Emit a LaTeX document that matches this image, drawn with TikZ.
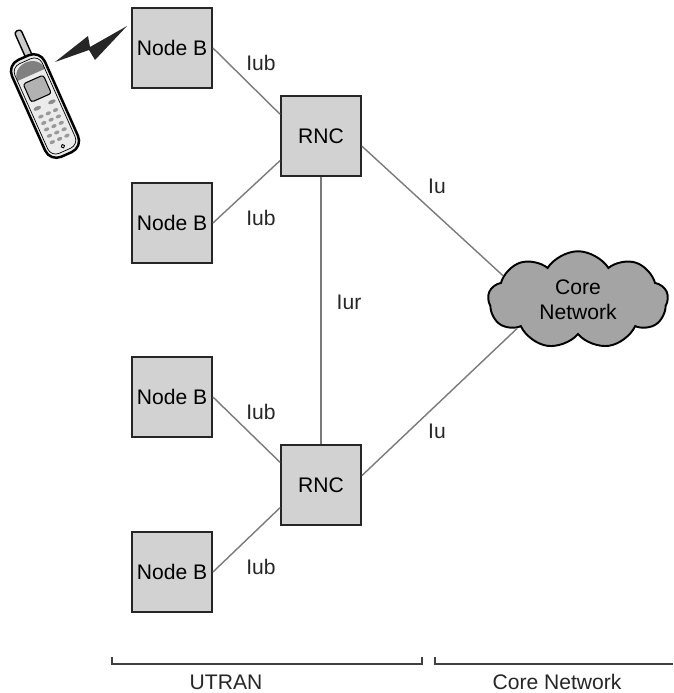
\documentclass[tikz,border=0pt]{standalone}
\usepackage{fontspec}
\setmainfont{Liberation Sans}
\usetikzlibrary{shapes.symbols}

\definecolor{boxgray}{HTML}{D2D2D2}
\definecolor{cloudgray}{HTML}{A4A4A4}
\definecolor{linkgray}{HTML}{7A7A7A}

\begin{document}
\begin{tikzpicture}[x=0.02cm, y=-0.02cm, font=\fontsize{12}{14}\selectfont,
  station/.style={draw=black!85, line width=1.1pt, fill=boxgray, minimum size=1.6cm, inner sep=0pt},
  link/.style={draw=linkgray, line width=0.8pt},
  lbl/.style={text=black!85, inner sep=1pt},
  bracket/.style={draw=black!75, line width=1pt}]

  \useasboundingbox (0,0) rectangle (673,693);

  % base stations and controllers
  \node[station] (nodeb1) at (172,48) {Node B};
  \node[station] (nodeb2) at (172,223) {Node B};
  \node[station] (nodeb3) at (172,397) {Node B};
  \node[station] (nodeb4) at (172,572) {Node B};
  \node[station] (rnc1) at (321,136) {RNC};
  \node[station] (rnc2) at (321,485) {RNC};
  \node[cloud, cloud puffs=9, cloud puff arc=115, aspect=1.9, draw=black, line width=1.1pt,
        fill=cloudgray, minimum width=3.6cm, minimum height=1.95cm, align=center] (core) at (578,300) {Core\\Network};

  % interfaces
  \draw[link] (nodeb1.east) -- (rnc1.152);
  \draw[link] (nodeb2.east) -- (rnc1.211);
  \draw[link] (nodeb3.east) -- (rnc2.151);
  \draw[link] (nodeb4.east) -- (rnc2.209);
  \draw[link] (rnc1.south) -- (rnc2.north);
  \draw[link] (rnc1.346) -- (core.162);
  \draw[link] (rnc2.13) -- (core.205);

  \node[lbl] (iub1) at (261,63) {Iub};
  \node[lbl] (iub2) at (261,218) {Iub};
  \node[lbl] (iub3) at (261,412) {Iub};
  \node[lbl] (iub4) at (261,567) {Iub};
  \node[lbl] (iu1) at (437,186) {Iu};
  \node[lbl] (iu2) at (437,431) {Iu};
  \node[lbl] (iur) at (349,302) {Iur};

  % radio link
  \fill[black!85] (55,62) -- (88,36) -- (90,47) -- (127,26) -- (95,60) -- (89,50) -- cycle;

  % handset
  \begin{scope}[shift={(45,106)}, rotate=24]
    \draw[line width=0.8pt, fill=black!20, rounded corners=1.5pt] (2,-46) rectangle (9,-80);
    \draw[line width=1.4pt, fill=black!8, rounded corners=7pt] (-18,-53) rectangle (18,53);
    \fill[black!50] (-15,-34) .. controls (-15,-52) and (15,-52) .. (15,-34) -- cycle;
    \draw[line width=0.4pt, rounded corners=5pt] (-15,-49) rectangle (15,49);
    \draw[line width=0.6pt, fill=black!30, rounded corners=1.5pt] (-11,-29) rectangle (11,-9);
    \foreach \x in {-8,8}
      \fill[black!45] (\x,-1) ellipse (4 and 2);
    \foreach \y in {8,15,22,29,36}
      \foreach \x in {-8,0,8}
        \fill[black!40] (\x,\y) ellipse (2.8 and 1.8);
    \draw[line width=0.5pt] (0,44) circle (1.8);
  \end{scope}

  % domains
  \draw[bracket] (112,657) -- (112,664) -- (422,664) -- (422,657);
  \draw[bracket] (435,657) -- (435,664) -- (673,664);
  \node[lbl] (utran) at (226,682) {UTRAN};
  \node[lbl] (corenet) at (557,682) {Core Network};
\end{tikzpicture}
\end{document}
